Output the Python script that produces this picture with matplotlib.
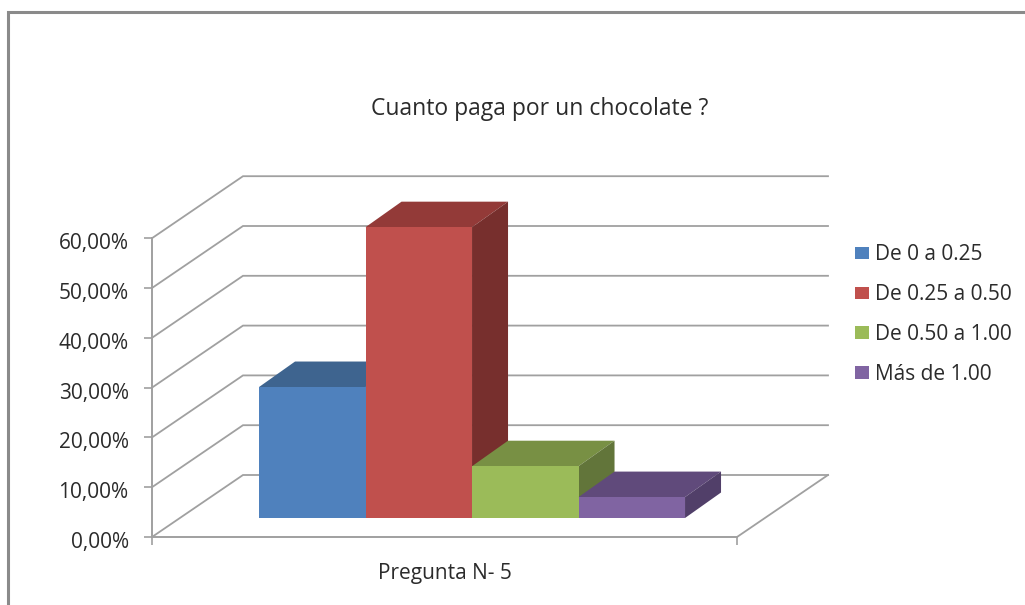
import matplotlib
matplotlib.use("Agg")
import matplotlib.pyplot as plt
from matplotlib.lines import Line2D
from matplotlib.patches import Patch, Polygon
from matplotlib.transforms import ScaledTranslation

plt.rcParams['font.family'] = ['Open Sans', 'DejaVu Sans']

categorias = ["De 0 a 0.25", "De 0.25 a 0.50", "De 0.50 a 1.00", "Más de 1.00"]
valores = [26.3, 58.4, 10.4, 4.2]
color_frente = ["#4f81bd", "#c0504d", "#9bbb59", "#8064a2"]
color_tapa = ["#3e648f", "#933a38", "#789044", "#604a7b"]
color_lado = ["#345478", "#772f2d", "#62753a", "#513f69"]
marcas_y = [0, 10, 20, 30, 40, 50, 60]
titulo = "Cuanto paga por un chocolate ?"
pregunta = "Pregunta N- 5"

W, H = 1025, 605
PX_X = 106.5   # pixeles por barra
PX_Y = 4.98    # pixeles por punto porcentual
X0, Y0 = 152, 68   # origen del eje, desde abajo a la izquierda
GRIS = "#a0a0a0"
TEXTO = "#2b2b2b"

# profundidad de la pared y de las barras, en unidades de datos
pared_dx, pared_dy = 91 / PX_X, 62 / PX_Y
barra_dx, barra_dy = 36 / PX_X, 25.5 / PX_Y
base_barra = 19 / PX_Y
ancho_piso = 585 / PX_X

fig = plt.figure(figsize=(W / 100, H / 100), dpi=100)
ax = fig.add_axes([0, 0, 1, 1])
ax.set_xlim(-X0 / PX_X, (W - X0) / PX_X)
ax.set_ylim(-Y0 / PX_Y, (H - Y0) / PX_Y)
ax.patch.set_alpha(0)

for s in ["top", "right"]:
    ax.spines[s].set_visible(False)
for s in ["left", "bottom"]:
    ax.spines[s].set_position(("data", 0))
    ax.spines[s].set_color(GRIS)
    ax.spines[s].set_linewidth(1.4)
ax.spines["left"].set_bounds(0, 60)
ax.spines["bottom"].set_bounds(0, ancho_piso)

ax.set_yticks(marcas_y)
ax.set_yticklabels([f"{v:.2f}%".replace(".", ",") for v in marcas_y])
ax.set_xticks([0, ancho_piso])
ax.set_xticklabels(["", ""])
ax.tick_params(axis="y", length=5.8, width=1.2, color=GRIS, pad=11,
               labelsize=15, labelcolor=TEXTO)
ax.tick_params(axis="x", length=5.8, width=1.2, color=GRIS)
# las etiquetas quedan un poco por debajo de cada marca
bajar = ScaledTranslation(0, -3 / 100, fig.dpi_scale_trans)
for lab in ax.get_yticklabels():
    lab.set_transform(lab.get_transform() + bajar)

# lineas de la pared lateral y del fondo
for v in marcas_y:
    ax.plot([0, pared_dx, pared_dx + ancho_piso],
            [v, v + pared_dy, v + pared_dy],
            color=GRIS, lw=1.3, solid_joinstyle="miter", zorder=1)
# borde derecho del piso
ax.plot([ancho_piso, ancho_piso + pared_dx], [0, pared_dy], color=GRIS, lw=1.3, zorder=1)

# barras con frente, tapa y lado
for i, v in enumerate(valores):
    x0, x1 = i + 1.005, i + 2.005
    y0, y1 = base_barra, base_barra + v
    z = 3 + i
    ax.add_patch(Polygon([(x0, y1), (x1, y1), (x1 + barra_dx, y1 + barra_dy), (x0 + barra_dx, y1 + barra_dy)],
                         facecolor=color_tapa[i], edgecolor="none", zorder=z))
    ax.add_patch(Polygon([(x1, y0), (x1 + barra_dx, y0 + barra_dy), (x1 + barra_dx, y1 + barra_dy), (x1, y1)],
                         facecolor=color_lado[i], edgecolor="none", zorder=z))
    ax.add_patch(Polygon([(x0, y0), (x1, y0), (x1, y1), (x0, y1)],
                         facecolor=color_frente[i], edgecolor="none", zorder=z + 0.5))

fig.text(540 / W, 1 - 109 / H, titulo, ha="center", va="center", fontsize=16.5, color=TEXTO)
fig.text(445 / W, 1 - 574 / H, pregunta, ha="center", va="center", fontsize=15, color=TEXTO)

handles = [Patch(facecolor=c, edgecolor="none") for c in color_frente]
ax.legend(handles, categorias, loc="upper left", bbox_to_anchor=(855 / W, 1 - 244.5 / H),
          frameon=False, fontsize=15, labelcolor=TEXTO, handlelength=0.67, handleheight=0.53,
          handletextpad=0.29, labelspacing=0.9, borderpad=0, borderaxespad=0)

# marco exterior del grafico
fig.add_artist(Line2D([8 / W, 8 / W, 1], [0, 1 - 12 / H, 1 - 12 / H], color="#8a8a8a", lw=2.2,
                      solid_joinstyle="miter"))

fig.savefig("out.png", dpi=100)
